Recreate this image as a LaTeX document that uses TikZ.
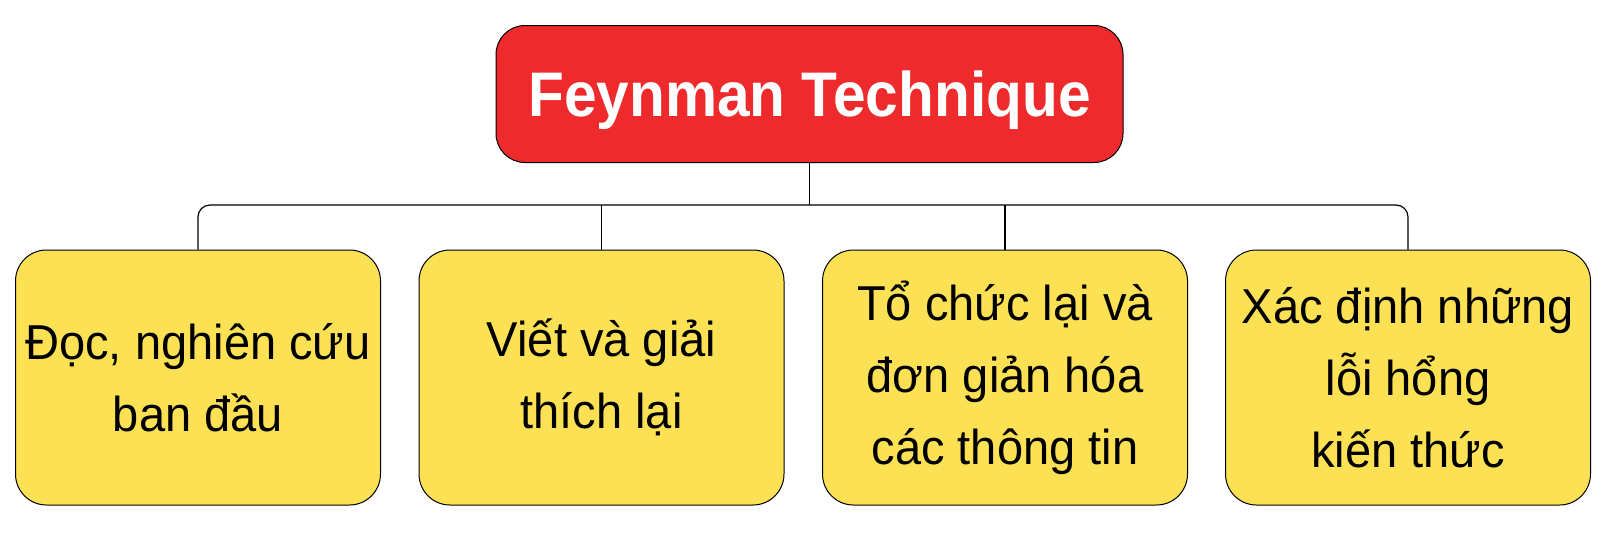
\documentclass[tikz,border=0pt]{standalone}
\usepackage{fontspec}
\setmainfont{Liberation Sans}
\newfontfamily\titlefont[FakeStretch=0.93]{Liberation Sans}
\newfontfamily\leaffont[FakeStretch=0.96]{Liberation Sans}
\definecolor{rootred}{RGB}{238,42,44}
\definecolor{leafyellow}{RGB}{253,225,84}
\tikzset{
  x=1pt, y=-1pt,
  rootbox/.style={draw=black, line width=1pt, fill=rootred, rounded corners=29pt,
    minimum width=627pt, minimum height=137pt, inner sep=0pt, text depth=0pt,
    text=white, font=\titlefont\fontsize{63}{70}\selectfont\bfseries},
  leafbox/.style={draw=black, line width=1pt, fill=leafyellow, rounded corners=31pt,
    minimum width=365pt, minimum height=255pt, inner sep=0pt, align=center,
    text=black, font=\leaffont\fontsize{49}{72}\selectfont},
  link/.style={draw=black, line width=1.2pt}
}
\begin{document}
\begin{tikzpicture}
\useasboundingbox[fill=white] (0,0) rectangle (1600,552);
\node[rootbox] (root) at (809.5,94) {Feynman Technique};
\node[leafbox] (c1) at (198,377.5) {Đọc, nghiên cứu\\ban đầu};
\node[leafbox] (c2) at (601.5,377.5) {Viết và giải\\thích lại};
\node[leafbox] (c3) at (1005,377.5) {Tổ chức lại và\\đơn giản hóa\\các thông tin};
\node[leafbox] (c4) at (1408,377.5) {Xác định những\\lỗi hổng\\kiến thức};
\coordinate (bus) at (809.5,205);
\draw[link] (root.south) -- (bus);
\draw[link, rounded corners=12pt] (c1.north) |- (bus) -| (c4.north);
\draw[link] (c2.north) -- (c2.north |- bus);
\draw[link] (c3.north) -- (c3.north |- bus);
\end{tikzpicture}
\end{document}
